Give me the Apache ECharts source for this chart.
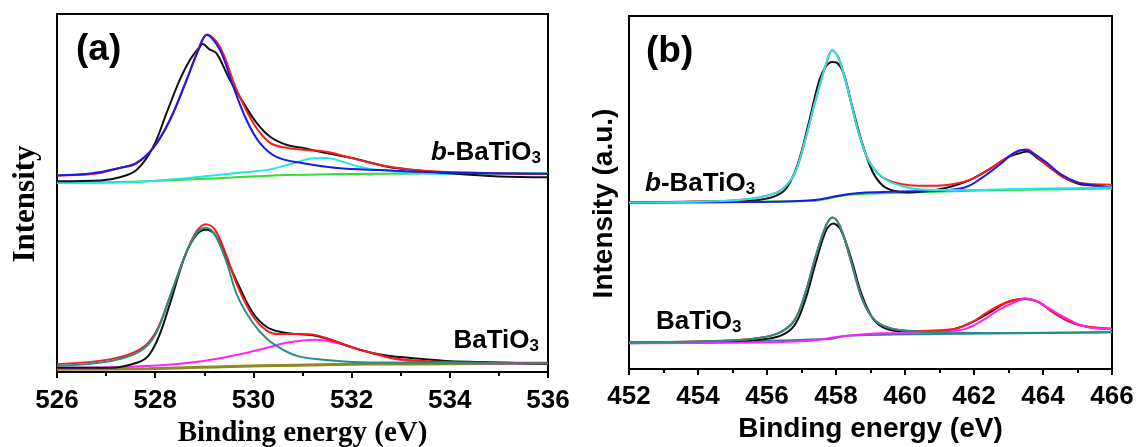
<!DOCTYPE html>
<html>
<head>
<meta charset="utf-8">
<script src="https://cdn.jsdelivr.net/npm/echarts@6/dist/echarts.min.js"></script>
<style>
html,body{margin:0;padding:0;background:#fff;}
#chart{width:1138px;height:447px;}
</style>
</head>
<body>
<div id="chart"></div>
<script>
// ---------- Panel (a): O 1s, x in eV, y in arbitrary intensity units ----------
var aTicks = [526, 528, 530, 532, 534, 536];
var aUpperBg = [[526,52.8],[527.86,53.3],[529.37,54.2],[530.68,55.0],[532.58,55.4],[536,55.5]];
var aUpperPeak2 = [[526,52.8],[527.28,52.9],[528.2,53.6],[528.98,54.6],[529.66,55.6],[530.34,56.6],[530.81,58.3],[531.22,59.7],[531.49,59.8],[531.83,58.7],[532.17,57.3],[532.58,56.4],[533.16,55.7],[533.92,55.4],[536,55.4]];
var aUpperRaw = [[526,53.3],[526.9,53.5],[527.28,54.4],[527.62,56.4],[527.96,62.9],[528.23,72.3],[528.5,81.6],[528.71,87.2],[528.91,90.9],[528.97,91.6],[529.1,90.2],[529.25,89.0],[529.52,81.6],[529.8,75.1],[530.07,69.5],[530.34,65.7],[530.68,63.4],[531.01,62.6],[531.36,61.5],[531.7,60.6],[532.03,59.7],[532.44,58.3],[532.78,57.2],[533.16,56.6],[533.92,55.6],[535,54.6],[536,54.4]];
var aUpperFit = [[526,54.9],[526.72,55.3],[527.28,57.0],[527.62,58.5],[527.96,62.6],[528.3,70.4],[528.64,81.6],[528.88,90.2],[529.05,94.3],[529.32,90.8],[529.66,78.8],[530.0,69.5],[530.34,64.0],[530.68,62.6],[531.08,62.0],[531.49,61.5],[531.9,60.1],[532.31,58.7],[532.58,57.8],[533.16,56.6],[533.92,55.9],[536,55.3]];
var aUpperPeak1 = [[526,54.9],[526.72,55.5],[527.28,57.0],[527.62,58.3],[527.96,62.6],[528.3,70.4],[528.64,81.6],[528.88,89.9],[529.05,94.1],[529.32,89.9],[529.59,79.7],[529.86,70.4],[530.13,64.0],[530.47,60.1],[531.01,58.3],[531.7,57.0],[532.58,56.4],[533.92,55.7],[536,55.4]];

var aLowerBg = [[526,0.75],[527.86,0.94],[529.37,1.5],[530.89,1.9],[532.4,2.2],[533.92,2.3],[536,2.4]];
var aLowerPeak2 = [[526,1.2],[527.86,1.7],[528.99,3.1],[529.75,5.0],[530.28,6.8],[530.73,8.3],[531.27,9.0],[531.8,7.8],[532.25,5.9],[532.78,4.0],[533.16,3.1],[533.92,2.6],[536,2.4]];
var aLowerRaw = [[526,1.2],[527.1,1.2],[527.63,2.6],[527.86,4.5],[528.08,10.1],[528.31,19.5],[528.61,32.6],[528.84,38.3],[529.03,39.7],[529.22,38.3],[529.45,31.7],[529.67,25.1],[529.98,16.7],[530.28,12.5],[530.58,11.1],[530.89,10.6],[531.27,10.1],[531.64,8.7],[532.02,6.8],[532.4,5.4],[532.78,4.5],[533.16,4.0],[533.92,3.1],[534.67,2.8],[536,2.2]];
var aLowerFit = [[526,2.2],[527.1,3.6],[527.7,6.4],[528.01,11.1],[528.31,21.4],[528.61,32.6],[528.84,39.2],[529.03,41.3],[529.22,39.7],[529.45,32.6],[529.67,24.2],[529.98,15.8],[530.28,11.5],[530.51,10.6],[530.89,10.6],[531.27,10.3],[531.64,8.7],[532.02,6.8],[532.4,5.4],[532.78,4.0],[533.16,3.4],[533.92,2.8],[536,2.6]];
var aLowerPeak1 = [[526,1.7],[527.1,3.1],[527.7,5.9],[528.01,10.6],[528.31,21.4],[528.61,32.6],[528.84,38.7],[529.03,40.3],[529.22,38.3],[529.45,30.8],[529.67,21.4],[529.98,13.9],[530.28,9.2],[530.58,6.4],[530.89,4.5],[531.27,3.6],[532.02,2.8],[533.16,2.6],[536,2.4]];

// ---------- Panel (b): Ti 2p ----------
var bTicks = [452, 454, 456, 458, 460, 462, 464, 466];
var bUpperBg = [[452,47.2],[457.3,47.6],[457.82,48.4],[458.33,49.3],[459.36,49.8],[460.9,50.2],[462.96,50.7],[466,51.1]];
var bUpperRaw = [[452,47.2],[454.73,47.5],[455.76,47.9],[456.27,49.1],[456.58,51.4],[456.89,58.0],[457.2,69.3],[457.51,81.6],[457.71,85.8],[457.89,87.0],[458.02,86.8],[458.23,83.5],[458.43,75.9],[458.74,64.6],[459.05,56.1],[459.36,51.9],[459.67,50.5],[460.08,50.0],[460.9,50.7],[461.42,51.9],[461.93,53.8],[462.45,56.6],[462.96,59.9],[463.38,61.3],[463.55,61.6],[463.79,60.1],[464.2,57.1],[464.61,54.2],[465.02,52.5],[465.54,51.9],[466,51.4]];
var bUpperFit = [[452,47.2],[454.73,47.6],[455.76,48.6],[456.38,50.5],[456.79,55.2],[457.1,64.6],[457.4,75.9],[457.71,86.3],[457.89,90.3],[458.07,88.2],[458.33,79.7],[458.64,67.5],[458.95,59.0],[459.36,54.2],[459.88,52.4],[460.39,51.9],[460.9,51.9],[461.42,52.4],[461.93,53.8],[462.45,56.6],[462.96,59.9],[463.38,62.0],[463.55,62.2],[463.79,60.4],[464.2,57.1],[464.61,54.2],[465.02,52.8],[466,52.2]];
var bUpperPeak2 = [[452,47.2],[455.76,47.3],[457.3,47.8],[457.82,48.6],[458.33,49.5],[458.85,50.0],[459.88,50.3],[460.9,50.5],[461.73,51.4],[462.24,54.2],[462.76,58.0],[463.17,61.3],[463.45,62.1],[463.68,61.3],[464.1,58.5],[464.51,55.2],[465.02,52.8],[465.54,51.9],[466,51.4]];
var bUpperPeak1 = [[452,47.2],[454.73,47.6],[455.76,48.6],[456.38,50.5],[456.79,55.2],[457.1,64.6],[457.4,75.9],[457.71,86.3],[457.89,90.3],[458.07,88.2],[458.33,79.7],[458.64,67.5],[458.95,59.0],[459.36,54.2],[459.88,51.9],[460.39,50.9],[460.9,50.7],[461.93,50.7],[462.96,50.9],[463.99,51.1],[466,51.4]];

var bLowerBg = [[452,7.3],[457.82,8.5],[458.33,9.4],[460.9,9.9],[463.99,10.2],[466,10.4]];
var bLowerRaw = [[452,7.5],[454.73,7.8],[455.76,8.3],[456.38,9.4],[456.79,12.3],[457.1,19.3],[457.4,29.7],[457.71,39.2],[457.92,41.2],[458.13,39.6],[458.43,31.6],[458.74,21.2],[459.05,14.6],[459.36,11.8],[459.88,10.7],[460.9,10.7],[461.42,11.3],[461.93,13.2],[462.45,16.0],[462.96,18.9],[463.48,19.8],[463.89,18.9],[464.3,16.0],[464.82,13.2],[465.33,11.8],[466,11.3]];
var bLowerFit = [[452,7.5],[454.73,8.0],[455.76,8.8],[456.38,10.4],[456.79,13.7],[457.1,21.2],[457.4,31.6],[457.71,40.6],[457.9,42.9],[458.13,40.1],[458.43,30.7],[458.74,20.3],[459.05,14.6],[459.36,12.3],[459.88,11.0],[460.39,10.8],[461.42,11.3],[461.93,13.2],[462.45,16.5],[462.96,18.9],[463.48,20.0],[463.89,18.9],[464.3,16.0],[464.82,13.2],[465.33,12.0],[466,11.5]];
var bLowerPeak2 = [[452,7.3],[455.76,7.5],[457.3,8.0],[457.82,8.8],[458.33,9.4],[459.36,10.1],[460.9,10.4],[461.73,11.3],[462.24,13.7],[462.76,17.0],[463.27,19.3],[463.48,20.0],[463.79,19.3],[464.2,17.0],[464.71,14.2],[465.23,12.0],[466,11.3]];
var bLowerPeak1 = [[452,7.5],[454.73,8.0],[455.76,8.8],[456.38,10.4],[456.79,13.7],[457.1,21.2],[457.4,31.6],[457.71,40.6],[457.9,42.9],[458.13,40.1],[458.43,30.7],[458.74,20.3],[459.05,14.6],[459.36,12.3],[459.88,11.0],[460.9,10.4],[462.96,10.2],[466,10.4]];

var C = {black:'#111111', red:'#ff1a1a', blue:'#1a1ae6', cyan:'#22e4ea', green:'#33dd33', teal:'#22908a', magenta:'#ff22ff', olive:'#8a8a1e', steel:'#2f7fa0'};

function line(data, color, gi, w){
  return {type:'line', data:data, xAxisIndex:gi, yAxisIndex:gi, showSymbol:false, smooth:0.35,
    lineStyle:{color:color, width:w||2}, itemStyle:{color:color}, silent:true, animation:false};
}

function xAx(gi, min, max, serif, gap, margin){
  return {type:'value', gridIndex:gi, min:min, max:max, interval:2,
    name:'Binding energy (eV)', nameLocation:'middle', nameGap:gap,
    nameTextStyle:{fontFamily: serif ? 'Liberation Serif' : 'Liberation Sans', fontWeight:'bold', fontSize: serif ? 29 : 28, color:'#000'},
    axisLine:{show:true, lineStyle:{color:'#000', width:2}},
    axisTick:{show:true, inside:false, length:6, lineStyle:{color:'#000', width:2}},
    minorTick:{show:true, splitNumber:2, length:4, lineStyle:{color:'#000', width:2}},
    axisLabel:{margin:margin, fontFamily:'Liberation Sans', fontWeight:'bold', fontSize:26, color:'#000'},
    splitLine:{show:false}};
}
function yAx(gi, name, serif, gap){
  return {type:'value', gridIndex:gi, min:0, max:100, name:name, nameLocation:'middle', nameGap:gap,
    nameTextStyle:{fontFamily: serif ? 'Liberation Serif' : 'Liberation Sans', fontWeight:'bold', fontSize: serif ? 31 : 28, color:'#000', padding:[0,22,0,0]},
    axisLine:{show:true, lineStyle:{color:'#000', width:2}}, axisTick:{show:false}, axisLabel:{show:false}, splitLine:{show:false}};
}

var rich = {
  it:{fontFamily:'Liberation Sans', fontWeight:'bold', fontStyle:'italic', fontSize:26, color:'#000'},
  n:{fontFamily:'Liberation Sans', fontWeight:'bold', fontSize:26, color:'#000'},
  sub:{fontFamily:'Liberation Sans', fontWeight:'bold', fontSize:17, color:'#000', padding:[10,0,0,0]}
};

var chart = echarts.init(document.getElementById('chart'), null, {renderer:'canvas'});
chart.setOption({
  backgroundColor:'#fff',
  animation:false,
  grid:[
    {left:57, top:14, width:491, height:358, show:true, borderColor:'#000', borderWidth:2, backgroundColor:'transparent', containLabel:false, outerBoundsMode:'none'},
    {left:629, top:16, width:483, height:353, show:true, borderColor:'#000', borderWidth:2, backgroundColor:'transparent', containLabel:false, outerBoundsMode:'none'}
  ],
  xAxis:[xAx(0, aTicks[0], aTicks[aTicks.length-1], true, 44, 16), xAx(1, bTicks[0], bTicks[bTicks.length-1], false, 41, 15)],
  yAxis:[yAx(0, 'Intensity', true, 16), yAx(1, 'Intensity (a.u.)', false, 11)],
  series:[
    line(aUpperBg, C.green, 0), line(aUpperPeak2, C.cyan, 0), line(aUpperRaw, C.black, 0), line(aUpperFit, C.red, 0), line(aUpperPeak1, C.blue, 0),
    line(aLowerBg, C.olive, 0, 3), line(aLowerPeak2, C.magenta, 0), line(aLowerRaw, C.black, 0), line(aLowerFit, C.red, 0), line(aLowerPeak1, C.teal, 0),
    line(bUpperBg, C.green, 1), line(bUpperRaw, C.black, 1), line(bUpperFit, C.red, 1), line(bUpperPeak2, C.blue, 1), line(bUpperPeak1, C.cyan, 1),
    line(bLowerBg, C.steel, 1), line(bLowerRaw, C.black, 1), line(bLowerFit, C.red, 1), line(bLowerPeak2, C.magenta, 1), line(bLowerPeak1, C.teal, 1)
  ],
  graphic:[
    {type:'text', left:76, top:31, silent:true, style:{text:'(a)', fontFamily:'Liberation Sans', fontWeight:'bold', fontSize:37, fill:'#000'}},
    {type:'text', left:646, top:33, silent:true, style:{text:'(b)', fontFamily:'Liberation Sans', fontWeight:'bold', fontSize:37, fill:'#000'}},
    {type:'text', right:1138-541, top:140, silent:true, style:{text:'{it|b}{n|-BaTiO}{sub|3}', rich:rich}},
    {type:'text', right:1138-539, top:328, silent:true, style:{text:'{n|BaTiO}{sub|3}', rich:rich}},
    {type:'text', left:645, top:171, silent:true, style:{text:'{it|b}{n|-BaTiO}{sub|3}', rich:rich}},
    {type:'text', left:656, top:309, silent:true, style:{text:'{n|BaTiO}{sub|3}', rich:rich}}
  ]
});
</script>
</body>
</html>
